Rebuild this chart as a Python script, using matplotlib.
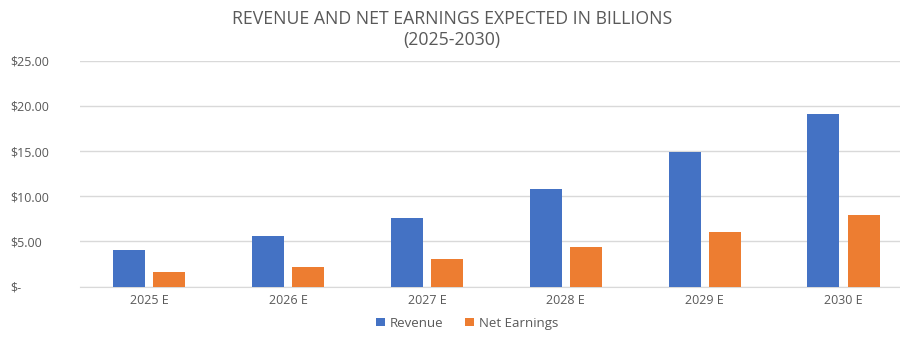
import numpy as np
import matplotlib

matplotlib.use('Agg')
import matplotlib.pyplot as plt
from matplotlib.ticker import FuncFormatter

years = ['2025 E', '2026 E', '2027 E', '2028 E', '2029 E', '2030 E']
revenue = [4.05, 5.6, 7.6, 10.8, 14.9, 19.15]
net_earnings = [1.65, 2.2, 3.1, 4.4, 6.1, 7.9]

BLUE = '#4472C4'
ORANGE = '#ED7D31'
GREY_TEXT = '#595959'
GRID = '#d9d9d9'

plt.rcParams['font.family'] = ['Open Sans', 'DejaVu Sans']

fig = plt.figure(figsize=(9, 3.38), dpi=100)
ax = fig.add_axes([0.0885, 0.152, 0.926, 0.668])

x = np.arange(len(years))
w = 0.23
ax.bar(x - 0.145, revenue, w, color=BLUE, label='Revenue', zorder=3)
ax.bar(x + 0.145, net_earnings, w, color=ORANGE, label='Net Earnings', zorder=3)

ax.set_xlim(-0.5, len(years) - 0.5)
ax.set_ylim(0, 25)
ax.set_yticks(np.arange(0, 26, 5))
ax.yaxis.set_major_formatter(FuncFormatter(lambda v, p: '$-' if v == 0 else f'${v:.2f}'))
ax.set_xticks(x)
ax.set_xticklabels(years)
ax.tick_params(axis='both', length=0, colors=GREY_TEXT, labelsize=9)
ax.tick_params(axis='y', pad=50)
ax.tick_params(axis='x', pad=5)
for lbl in ax.get_yticklabels():
    lbl.set_horizontalalignment('left')

ax.grid(axis='y', color=GRID, linewidth=1, zorder=0)
for s in ['top', 'right', 'left']:
    ax.spines[s].set_visible(False)
ax.spines['bottom'].set_color(GRID)

fig.text(0.502, 0.97, 'REVENUE AND NET EARNINGS EXPECTED IN BILLIONS\n(2025-2030)',
         ha='center', va='top', fontsize=12.7, color=GREY_TEXT, linespacing=1.2)

fig.legend(loc='center', bbox_to_anchor=(0.519, 0.043), ncol=2, frameon=False,
           fontsize=9.5, labelcolor=GREY_TEXT, handlelength=0.7, handleheight=0.55,
           handletextpad=0.4, columnspacing=1.6)

fig.savefig('out.png', dpi=100)
